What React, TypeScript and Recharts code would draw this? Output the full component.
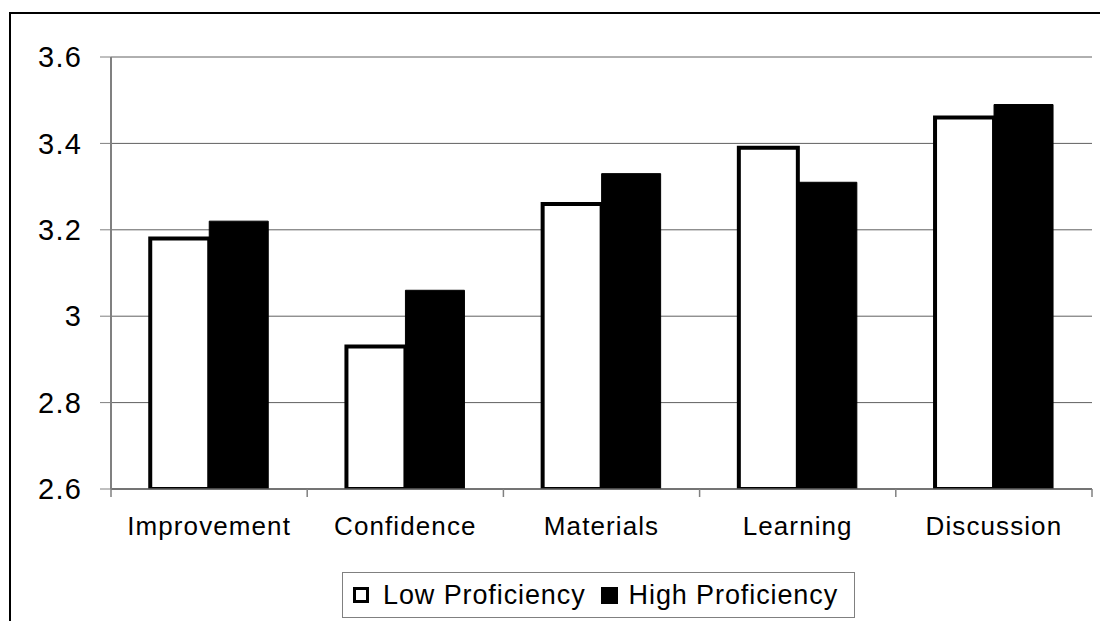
import { Bar, BarChart, CartesianGrid, Legend, XAxis, YAxis } from "recharts";

const categories = ["Improvement", "Confidence", "Materials", "Learning", "Discussion"];
const lowProficiency = [3.18, 2.93, 3.26, 3.39, 3.46];
const highProficiency = [3.22, 3.06, 3.33, 3.31, 3.49];
const yTicks = [2.6, 2.8, 3, 3.2, 3.4, 3.6];

const data = categories.map((name, i) => ({
  name,
  low: lowProficiency[i],
  high: highProficiency[i],
}));

const FONT = "'Liberation Sans', Arial, sans-serif";

// Category label plus Excel-style tick marks between categories.
function CategoryTick(props: any) {
  const { x, y, payload, index, visibleTicksCount } = props;
  const half = payload.offset ?? 0;
  const last = index === visibleTicksCount - 1;
  return (
    <g>
      <line x1={x - half} x2={x - half} y1={y - 28} y2={y - 20} stroke="#808080" strokeWidth={1.5} />
      {last && (
        <line x1={x + half} x2={x + half} y1={y - 28} y2={y - 20} stroke="#808080" strokeWidth={1.5} />
      )}
      <text
        x={x}
        y={y}
        dy="0.71em"
        textAnchor="middle"
        fontFamily={FONT}
        fontSize={26}
        letterSpacing={1.1}
        fill="#000"
      >
        {payload.value}
      </text>
    </g>
  );
}

function LegendBox() {
  return (
    <div
      style={{
        width: 513,
        height: 46,
        border: "1px solid #808080",
        background: "#fff",
        display: "flex",
        alignItems: "center",
        fontFamily: FONT,
        fontSize: 27,
        letterSpacing: 0.9,
        boxSizing: "border-box",
        paddingLeft: 10,
        color: "#000",
      }}
    >
      <span
        style={{
          width: 16,
          height: 16,
          boxSizing: "border-box",
          border: "3.5px solid #000",
          background: "#fff",
          marginRight: 14,
          flexShrink: 0,
        }}
      />
      <span style={{ marginRight: 15, whiteSpace: "nowrap" }}>Low Proficiency</span>
      <span style={{ width: 17, height: 17, background: "#000", marginRight: 11, flexShrink: 0 }} />
      <span style={{ whiteSpace: "nowrap" }}>High Proficiency</span>
    </div>
  );
}

export default function App() {
  return (
    <div
      style={{
        position: "absolute",
        left: 0,
        top: 0,
        width: 1100,
        height: 621,
        overflow: "hidden",
        background: "#fff",
      }}
    >
      <div
        style={{
          position: "absolute",
          left: 9,
          top: 12,
          width: 1200,
          height: 800,
          border: "2px solid #000",
        }}
      />
      <div style={{ position: "absolute", left: 0, top: 0 }}>
        <BarChart
          width={1100}
          height={621}
          data={data}
          margin={{ top: 57, right: 8, bottom: 0, left: 0 }}
          barCategoryGap="20%"
          barGap={0}
        >
          <CartesianGrid vertical={false} stroke="#606060" strokeWidth={1} />
          <XAxis
            dataKey="name"
            height={132}
            tickSize={8}
            tickMargin={20}
            tickLine={false}
            axisLine={{ stroke: "#606060", strokeWidth: 1.5 }}
            tick={<CategoryTick />}
            interval={0}
          />
          <YAxis
            domain={[2.6, 3.6]}
            ticks={yTicks}
            width={111}
            tickSize={11}
            tickMargin={18}
            tickFormatter={(v: number) => String(v)}
            axisLine={{ stroke: "#808080", strokeWidth: 2 }}
            tickLine={{ stroke: "#808080" }}
            tick={{ fontFamily: FONT, fontSize: 29, letterSpacing: 1.2, fill: "#000" }}
            allowDataOverflow
          />
          <YAxis
            yAxisId="right"
            orientation="right"
            domain={[2.6, 3.6]}
            width={0}
            tick={false}
            tickLine={false}
            axisLine={{ stroke: "#808080", strokeWidth: 2 }}
          />
          <Legend
            verticalAlign="middle"
            layout="horizontal"
            wrapperStyle={{ left: 342, top: 572, width: 513, height: 46 }}
            content={() => <LegendBox />}
          />
          <Bar
            dataKey="low"
            name="Low Proficiency"
            fill="#fff"
            stroke="#000"
            strokeWidth={4}
            isAnimationActive={false}
          />
          <Bar
            dataKey="high"
            name="High Proficiency"
            fill="#000"
            stroke="#000"
            strokeWidth={1}
            isAnimationActive={false}
          />
        </BarChart>
      </div>
    </div>
  );
}
